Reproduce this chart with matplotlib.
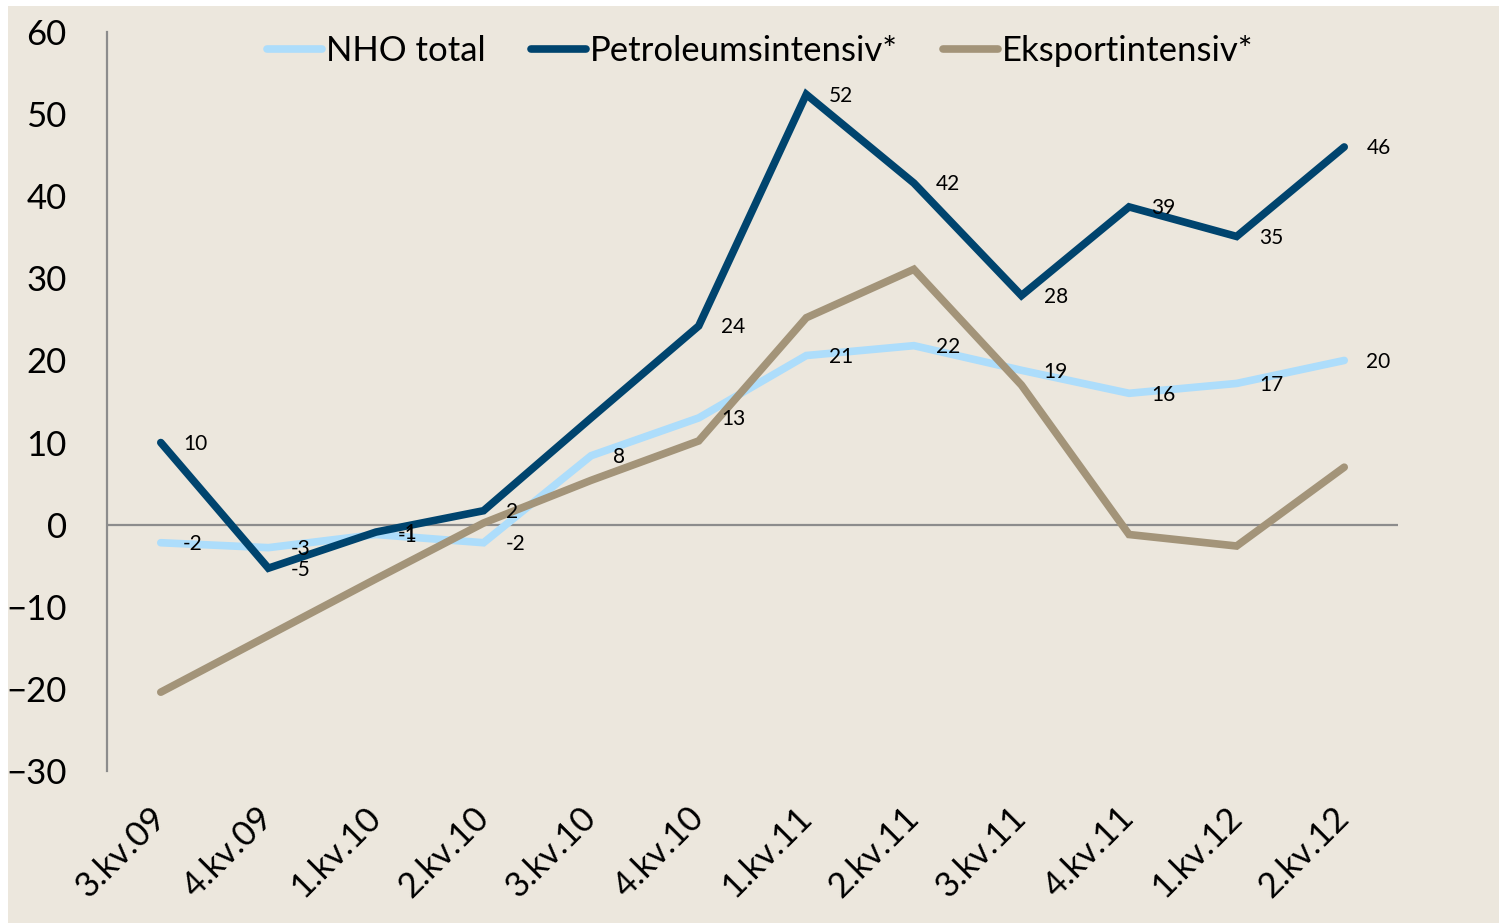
import matplotlib
matplotlib.use("Agg")
import matplotlib.pyplot as plt
from matplotlib.patches import Rectangle

plt.rcParams["font.family"] = ["Lato", "DejaVu Sans"]

quarters = ["3.kv.09", "4.kv.09", "1.kv.10", "2.kv.10", "3.kv.10", "4.kv.10",
            "1.kv.11", "2.kv.11", "3.kv.11", "4.kv.11", "1.kv.12", "2.kv.12"]
nho_total = [-2.2, -2.8, -1.2, -2.2, 8.4, 13.0, 20.6, 21.8, 18.8, 16.0, 17.2, 20.0]
petroleum = [10.0, -5.3, -0.9, 1.7, 13.0, 24.2, 52.4, 41.6, 27.9, 38.7, 35.1, 46.0]
eksport = [-20.4, -13.5, -6.6, 0.2, 5.4, 10.2, 25.2, 31.1, 17.0, -1.2, -2.6, 7.0]
# petroleum label for 3.kv.10 is missing in the source chart
petro_labelled = [True, True, True, True, False, True, True, True, True, True, True, True]

BG = "#ECE7DD"
C_NHO = "#ADDDFB"
C_PET = "#00446E"
C_EKS = "#A39479"

fig = plt.figure(figsize=(14.99, 9.23), dpi=100)
fig.patch.set_facecolor("white")
fig.patches.append(Rectangle((8 / 1499, 0), 1, 1 - 6 / 923, transform=fig.transFigure,
                             facecolor=BG, edgecolor="none", zorder=-10))

ax = fig.add_axes([107 / 1499, 1 - 771 / 923, (1398 - 107) / 1499, (771 - 32) / 923])
ax.patch.set_visible(False)

x = list(range(len(quarters)))
lw = 5.5
ax.axhline(0, color="#8C8C8C", linewidth=1.6, zorder=1)
ax.plot(x, nho_total, color=C_NHO, linewidth=lw, solid_capstyle="round",
        solid_joinstyle="miter", label="NHO total", zorder=2)
ax.plot(x, petroleum, color=C_PET, linewidth=lw, solid_capstyle="round",
        solid_joinstyle="miter", label="Petroleumsintensiv*", zorder=3)
ax.plot(x, eksport, color=C_EKS, linewidth=lw, solid_capstyle="round",
        solid_joinstyle="miter", label="Eksportintensiv*", zorder=4)

for xi, v in zip(x, nho_total):
    ax.annotate(f"{v:.0f}", xy=(xi, v), xytext=(16, -1), textcoords="offset points",
                ha="left", va="center", fontsize=15, color="black", zorder=5)
for xi, v, show in zip(x, petroleum, petro_labelled):
    if show:
        ax.annotate(f"{v:.0f}", xy=(xi, v), xytext=(16, -1), textcoords="offset points",
                    ha="left", va="center", fontsize=15, color="black", zorder=5)

ax.set_xlim(-0.5, len(quarters) - 0.5)
ax.set_ylim(-30, 60)
ax.set_yticks(range(-30, 61, 10))
ax.set_xticks(x)
ax.set_xticklabels(quarters, rotation=45, ha="right", va="center",
                   rotation_mode="anchor", fontsize=25)
ax.tick_params(axis="y", length=0, pad=29, labelsize=25)
ax.tick_params(axis="x", length=0, pad=30)

for side in ["top", "right", "bottom"]:
    ax.spines[side].set_visible(False)
ax.spines["left"].set_color("#8C8C8C")
ax.spines["left"].set_linewidth(1.6)

leg = ax.legend(loc="center", bbox_to_anchor=(760 / 1499, 1 - 51 / 923),
                bbox_transform=fig.transFigure, ncol=3, frameon=False,
                fontsize=25, handlelength=1.6, handletextpad=0.1,
                columnspacing=1.3)
for line in leg.get_lines():
    line.set_solid_capstyle("round")

fig.savefig("out.png", dpi=100, facecolor=fig.get_facecolor())
